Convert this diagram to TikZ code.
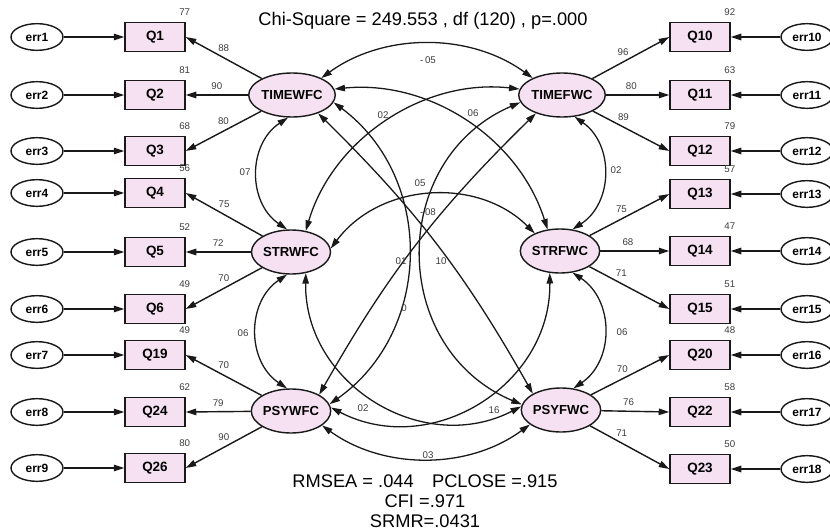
\documentclass[tikz,border=0pt]{standalone}
\usepackage{fontspec}
\setmainfont{Liberation Sans}
\usepackage{tikz}
\usetikzlibrary{shapes.geometric, arrows.meta, positioning}
\usepackage{xcolor}
\definecolor{latpink}{RGB}{245,225,242}
\definecolor{linegray}{RGB}{25,25,25}
\definecolor{numgray}{RGB}{60,60,60}
\tikzset{
  lat/.style={ellipse, draw=linegray, line width=1.2pt, fill=latpink,
    minimum width=2.25cm, minimum height=1.32cm, inner sep=0pt,
    font=\fontsize{11.2}{13}\selectfont\bfseries},
  obs/.style={rectangle, draw=linegray, line width=1.2pt, fill=latpink,
    minimum width=1.8cm, minimum height=0.87cm, inner sep=0pt,
    font=\fontsize{11.5}{13}\selectfont\bfseries},
  err/.style={ellipse, draw=linegray, line width=1.2pt, fill=white,
    minimum width=1.56cm, minimum height=0.8cm, inner sep=0pt,
    font=\fontsize{10.2}{12}\selectfont\bfseries},
  num/.style={font=\fontsize{8.3}{10}\selectfont, text=numgray, inner sep=1pt},
  r2/.style={num, anchor=south east, inner sep=0pt, xshift=4pt, yshift=5pt},
  fitstat/.style={font=\fontsize{15.6}{17}\selectfont, align=center, inner sep=0pt},
  arr/.style={-{Triangle[length=9pt,width=5.5pt]}, line width=1.2pt, draw=linegray},
  cov/.style={{Triangle[length=9pt,width=5.5pt]}-{Triangle[length=9pt,width=5.5pt]},
    line width=1.1pt, draw=linegray},
}

\begin{document}
\begin{tikzpicture}[x=0.03cm, y=0.03cm]
  \useasboundingbox (0,0) rectangle (830,-531);

  % -- Latent factors --
  \node[lat] (TW) at (292,-95)  {TIMEWFC};
  \node[lat] (SW) at (291,-252) {STRWFC};
  \node[lat] (PW) at (291,-411) {PSYWFC};
  \node[lat] (TF) at (562,-95)  {TIMEFWC};
  \node[lat] (SF) at (560,-251) {STRFWC};
  \node[lat] (PF) at (561,-410) {PSYFWC};

  % -- Left indicators --
  \node[obs, label={[r2]north east:77}] (Q1)  at (155,-37)  {Q1};
  \node[obs, label={[r2]north east:81}] (Q2)  at (155,-95)  {Q2};
  \node[obs, label={[r2]north east:68}] (Q3)  at (155,-151) {Q3};
  \node[obs, label={[r2]north east:56}] (Q4)  at (155,-193) {Q4};
  \node[obs, label={[r2]north east:52}] (Q5)  at (155,-252) {Q5};
  \node[obs, label={[r2]north east:49}] (Q6)  at (155,-309) {Q6};
  \node[obs, label={[r2]north east:49}] (Q19) at (155,-355) {Q19};
  \node[obs, label={[r2]north east:62}] (Q24) at (155,-412) {Q24};
  \node[obs, label={[r2]north east:80}] (Q26) at (155,-468) {Q26};

  % -- Right indicators --
  \node[obs, label={[r2]north east:92}] (Q10) at (700,-37)  {Q10};
  \node[obs, label={[r2]north east:63}] (Q11) at (700,-95)  {Q11};
  \node[obs, label={[r2]north east:79}] (Q12) at (700,-151) {Q12};
  \node[obs, label={[r2]north east:57}] (Q13) at (700,-194) {Q13};
  \node[obs, label={[r2]north east:47}] (Q14) at (700,-251) {Q14};
  \node[obs, label={[r2]north east:51}] (Q15) at (700,-309) {Q15};
  \node[obs, label={[r2]north east:48}] (Q20) at (700,-355) {Q20};
  \node[obs, label={[r2]north east:58}] (Q22) at (700,-412) {Q22};
  \node[obs, label={[r2]north east:50}] (Q23) at (700,-469) {Q23};

  % -- Error terms --
  \node[err] (e1)  at (37,-37)  {err1};
  \node[err] (e2)  at (37,-95)  {err2};
  \node[err] (e3)  at (37,-151) {err3};
  \node[err] (e4)  at (37,-193) {err4};
  \node[err] (e5)  at (37,-252) {err5};
  \node[err] (e6)  at (37,-309) {err6};
  \node[err] (e7)  at (37,-355) {err7};
  \node[err] (e8)  at (37,-412) {err8};
  \node[err] (e9)  at (37,-468) {err9};
  \node[err] (e10) at (807,-37)  {err10};
  \node[err] (e11) at (807,-95)  {err11};
  \node[err] (e12) at (807,-151) {err12};
  \node[err] (e13) at (807,-194) {err13};
  \node[err] (e14) at (807,-251) {err14};
  \node[err] (e15) at (807,-309) {err15};
  \node[err] (e16) at (807,-355) {err16};
  \node[err] (e17) at (807,-412) {err17};
  \node[err] (e18) at (807,-469) {err18};

  % Error paths
  \draw[arr] (e1) -- (Q1);   \draw[arr] (e2) -- (Q2);   \draw[arr] (e3) -- (Q3);
  \draw[arr] (e4) -- (Q4);   \draw[arr] (e5) -- (Q5);   \draw[arr] (e6) -- (Q6);
  \draw[arr] (e7) -- (Q19);  \draw[arr] (e8) -- (Q24);  \draw[arr] (e9) -- (Q26);
  \draw[arr] (e10) -- (Q10); \draw[arr] (e11) -- (Q11); \draw[arr] (e12) -- (Q12);
  \draw[arr] (e13) -- (Q13); \draw[arr] (e14) -- (Q14); \draw[arr] (e15) -- (Q15);
  \draw[arr] (e16) -- (Q20); \draw[arr] (e17) -- (Q22); \draw[arr] (e18) -- (Q23);

  % Factor loadings
  \draw[arr] (TW) -- node[num, above=4pt] {88} (Q1.east);
  \draw[arr] (TW) -- node[num, above=3pt] {90} (Q2.east);
  \draw[arr] (TW) -- node[num, above=4pt] {80} (Q3.east);
  \draw[arr] (SW) -- node[num, above=4pt] {75} (Q4.east);
  \draw[arr] (SW) -- node[num, above=3pt] {72} (Q5.east);
  \draw[arr] (SW) -- node[num, above=4pt] {70} (Q6.east);
  \draw[arr] (PW) -- node[num, above=4pt] {70} (Q19.east);
  \draw[arr] (PW) -- node[num, above=3pt] {79} (Q24.east);
  \draw[arr] (PW) -- node[num, above=4pt] {90} (Q26.east);
  \draw[arr] (TF) -- node[num, pos=.4, above=4pt] {96} (Q10.west);
  \draw[arr] (TF) -- node[num, pos=.4, above=3pt] {80} (Q11.west);
  \draw[arr] (TF) -- node[num, pos=.4, above=4pt] {89} (Q12.west);
  \draw[arr] (SF) -- node[num, pos=.4, above=4pt] {75} (Q13.west);
  \draw[arr] (SF) -- node[num, pos=.4, above=3pt] {68} (Q14.west);
  \draw[arr] (SF) -- node[num, pos=.4, above=4pt] {71} (Q15.west);
  \draw[arr] (PF) -- node[num, pos=.4, above=4pt] {70} (Q20.west);
  \draw[arr] (PF) -- node[num, pos=.4, above=3pt] {76} (Q22.west);
  \draw[arr] (PF) -- node[num, pos=.4, above=4pt] {71} (Q23.west);

  % Covariances
  \draw[cov] (TW.30)   to[bend left=36, looseness=.94]  (TF.150);
  \draw[cov] (TW.-100) to[bend right=56, looseness=1.1] (SW.100);
  \draw[cov] (SW.-100) to[bend right=56, looseness=1.1] (PW.100);
  \draw[cov] (TF.-60)  to[bend left=56, looseness=1.1]  (SF.60);
  \draw[cov] (SF.-60)  to[bend left=56, looseness=1.1]  (PF.60);
  \draw[cov] (PW.-25)  to[bend right=36, looseness=.94] (PF.-155);
  \draw[cov] (TW.8)    to[bend left=39, looseness=.96]  (SF.120);
  \draw[cov] (SW.55)   to[bend left=40, looseness=.96]  (TF.172);
  \draw[cov] (SW.5)    to[bend left=49, looseness=1.02] (SF.145);
  \draw[cov] (TW.-10)  to[bend left=54, looseness=1.07] (PW.10);
  \draw[cov] (TF.-170) to[bend right=67, looseness=1.22] (PF.172);
  \draw[cov] (TW.-35)  to[bend left=8]  (PF.150);
  \draw[cov] (TF.-145) to[bend right=8] (PW.30);
  \draw[cov] (SW.-55)  to[bend right=59, looseness=1.12] (PF.175);
  \draw[cov] (SF.-115) to[bend left=59, looseness=1.12]  (PW.5);

  % Covariance estimates
  \node[num] (cTT) at (428,-60)  {-\,05};
  \node[num] (cTS) at (245,-172) {07};
  \node[num] (cSP) at (243,-333) {06};
  \node[num] (dTS) at (616,-170) {02};
  \node[num] (dSP) at (622,-332) {06};
  \node[num] (cPP) at (428,-455) {03};
  \node[num] (xTS) at (473,-113) {06};
  \node[num] (xST) at (383,-115) {02};
  \node[num] (cSS) at (420,-183) {05};
  \node[num] (xTP) at (428,-212) {-\,08};
  \node[num] (cTP) at (401,-261) {01};
  \node[num] (dTP) at (441,-261) {10};
  \node[num] (xPT) at (404,-308) {0};
  \node[num] (xPS) at (363,-408) {02};
  \node[num] (xSP) at (494,-410) {16};

  % Fit indices
  \node[fitstat] (chisq) at (423,-21) {Chi-Square = 249.553 , df (120) , p=.000};
  \node[fitstat] (fit) at (425,-501)
       {RMSEA = .044\quad PCLOSE =.915\\CFI =.971\\SRMR=.0431};
\end{tikzpicture}
\end{document}
